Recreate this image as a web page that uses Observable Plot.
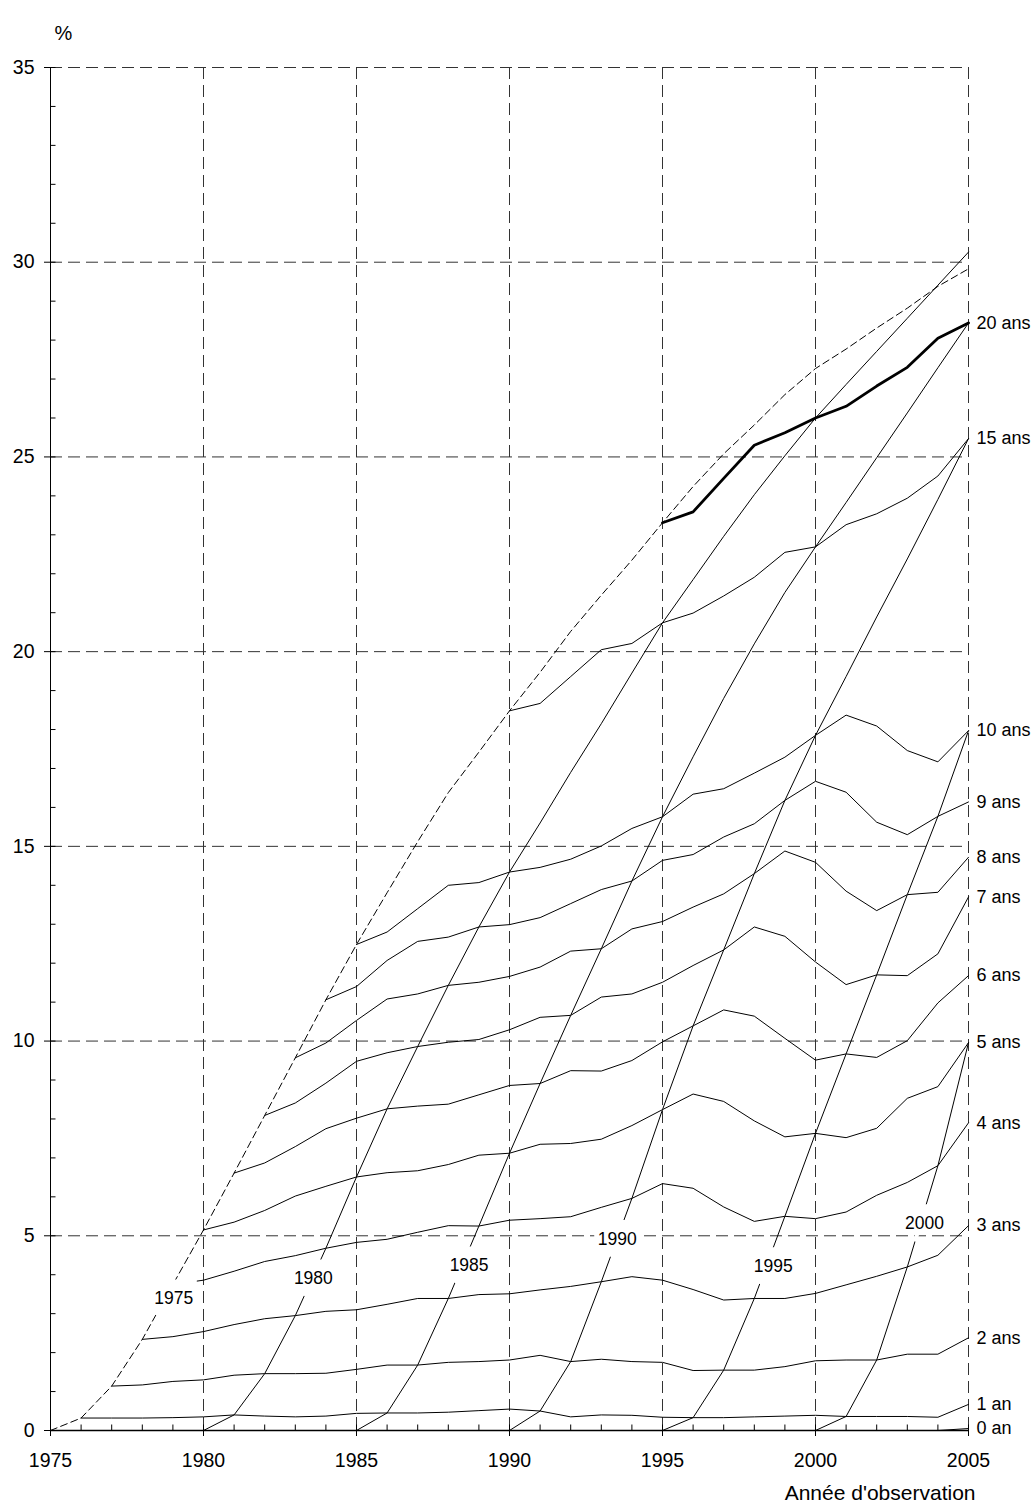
<!DOCTYPE html>
<html>
<head>
<meta charset="utf-8">
<script src="https://cdn.jsdelivr.net/npm/d3@7"></script>
<script src="https://cdn.jsdelivr.net/npm/@observablehq/plot@0.6"></script>
<style>
  body { margin: 0; background: #fff; }
  #chart svg { display: block; }
</style>
</head>
<body>
<div id="chart"></div>
<script>
// ---------- data (cumulative %) ----------
const firstYear = 1975, lastYear = 2005;
const durations = [0, 1, 2, 3, 4, 5, 6, 7, 8, 9, 10, 15, 20];
const durationLabels = ["0 an", "1 an", "2 ans", "3 ans", "4 ans", "5 ans", "6 ans", "7 ans", "8 ans", "9 ans", "10 ans", "15 ans", "20 ans"];

// each series starts in observation year 1975 + duration and ends in 2005
const dur0 = [0, 0, 0, 0, 0, 0, 0, 0, 0, 0, 0, 0, 0, 0, 0, 0, 0, 0, 0, 0, 0, 0, 0, 0, 0, 0, 0, 0, 0, 0, 0.05];
const dur1 = [0.32, 0.32, 0.32, 0.33, 0.35, 0.40, 0.37, 0.35, 0.37, 0.44, 0.45, 0.45, 0.47, 0.51, 0.55, 0.50, 0.35, 0.40, 0.39, 0.34, 0.33, 0.33, 0.35, 0.37, 0.39, 0.36, 0.36, 0.36, 0.34, 0.67];
const dur2 = [1.14, 1.17, 1.26, 1.30, 1.42, 1.46, 1.46, 1.47, 1.57, 1.68, 1.68, 1.75, 1.77, 1.81, 1.93, 1.77, 1.83, 1.77, 1.75, 1.54, 1.55, 1.55, 1.64, 1.79, 1.81, 1.81, 1.96, 1.96, 2.38];
const dur3 = [2.34, 2.41, 2.54, 2.72, 2.87, 2.95, 3.06, 3.10, 3.24, 3.39, 3.39, 3.49, 3.51, 3.61, 3.70, 3.82, 3.95, 3.86, 3.62, 3.35, 3.39, 3.39, 3.52, 3.74, 3.96, 4.20, 4.50, 5.26];
const dur4 = [3.75, 3.86, 4.09, 4.34, 4.49, 4.68, 4.83, 4.91, 5.09, 5.26, 5.25, 5.40, 5.44, 5.49, 5.73, 5.96, 6.34, 6.22, 5.74, 5.37, 5.50, 5.44, 5.61, 6.04, 6.37, 6.80, 7.90];
const dur5 = [5.15, 5.35, 5.65, 6.02, 6.27, 6.51, 6.62, 6.67, 6.83, 7.07, 7.12, 7.35, 7.37, 7.48, 7.83, 8.24, 8.64, 8.45, 7.95, 7.54, 7.63, 7.52, 7.76, 8.53, 8.83, 9.96];
const dur6 = [6.61, 6.87, 7.29, 7.75, 8.02, 8.26, 8.33, 8.38, 8.62, 8.86, 8.91, 9.24, 9.23, 9.50, 9.98, 10.39, 10.80, 10.64, 10.07, 9.51, 9.67, 9.58, 10.01, 10.98, 11.68];
const dur7 = [8.09, 8.41, 8.92, 9.48, 9.70, 9.86, 9.97, 10.04, 10.29, 10.61, 10.66, 11.13, 11.21, 11.51, 11.94, 12.34, 12.93, 12.69, 12.03, 11.45, 11.70, 11.68, 12.24, 13.70];
const dur8 = [9.57, 9.95, 10.53, 11.08, 11.21, 11.43, 11.51, 11.66, 11.90, 12.31, 12.37, 12.88, 13.07, 13.44, 13.78, 14.30, 14.88, 14.59, 13.85, 13.35, 13.76, 13.82, 14.72];
const dur9 = [11.06, 11.40, 12.07, 12.56, 12.67, 12.93, 12.99, 13.17, 13.53, 13.89, 14.11, 14.64, 14.79, 15.24, 15.58, 16.18, 16.67, 16.39, 15.62, 15.30, 15.77, 16.14];
const dur10 = [12.48, 12.80, 13.40, 14.00, 14.07, 14.34, 14.46, 14.67, 15.01, 15.46, 15.76, 16.34, 16.48, 16.88, 17.29, 17.85, 18.37, 18.09, 17.46, 17.17, 17.97];
const dur15 = [18.48, 18.67, 19.36, 20.05, 20.21, 20.74, 20.99, 21.43, 21.91, 22.55, 22.69, 23.26, 23.54, 23.94, 24.51, 25.47];
const dur20 = [23.31, 23.59, 24.45, 25.30, 25.62, 26.00, 26.30, 26.82, 27.30, 28.05, 28.44];
const durationSeries = [dur0, dur1, dur2, dur3, dur4, dur5, dur6, dur7, dur8, dur9, dur10, dur15, dur20];

// cohort (year of start) lines: values at durations that have no line of their own
const cohorts = [1975, 1980, 1985, 1990, 1995, 2000];
const extraDurations = [11, 12, 13, 14, 16, 17, 18, 19, 21, 22, 23, 24, 25, 26, 27, 28, 29, 30];
const cohort1975Extra = [13.81, 15.12, 16.38, 17.42, 19.47, 20.52, 21.45, 22.35, 24.24, 25.08, 25.82, 26.60, 27.27, 27.77, 28.31, 28.82, 29.38, 29.83];
const cohort1980Extra = [15.60, 16.90, 18.15, 19.45, 21.85, 22.96, 24.03, 25.03, 26.86, 27.71, 28.56, 29.41, 30.26];
const cohort1985Extra = [17.30, 18.80, 20.20, 21.52, 23.83, 24.98, 26.13, 27.29];
const cohort1990Extra = [19.36, 20.89, 22.38, 23.91];
const cohort1995Extra = [];
const cohort2000Extra = [];
const cohortExtras = [cohort1975Extra, cohort1980Extra, cohort1985Extra, cohort1990Extra, cohort1995Extra, cohort2000Extra];

// where the cohort labels sit
const cohortLabelYear = [1979.03, 1983.59, 1988.68, 1993.52, 1998.62, 2003.56];
const cohortLabelValue = [3.39, 3.90, 4.24, 4.92, 4.22, 5.32];

const xTicks = [1975, 1980, 1985, 1990, 1995, 2000, 2005];
const yTicks = [0, 5, 10, 15, 20, 25, 30, 35];

// ---------- layout ----------
const W = 1036, H = 1511, ML = 50, MR = 68, MT = 67, MB = 81;
const yMax = 35;
const font = "'Liberation Sans', Arial, Helvetica, sans-serif";

// ---------- build rows ----------
const table = new Map();
const key = (year, d) => year + ":" + d;
const durationRows = [];
durations.forEach((d, k) => {
  durationSeries[k].forEach((v, i) => {
    const year = firstYear + d + i;
    table.set(key(year, d), v);
    durationRows.push({d, year, v});
  });
});
cohorts.forEach((c, k) => {
  cohortExtras[k].forEach((v, j) => {
    const d = extraDurations[j];
    table.set(key(c + d, d), v);
  });
});
const cohortRows = [];
cohorts.forEach(c => {
  for (let d = 0; c + d <= lastYear; ++d) {
    const v = table.get(key(c + d, d));
    if (v !== undefined) cohortRows.push({c, year: c + d, v});
  }
});

// gaps in the cohort lines under their labels
const kx = (W - ML - MR) / (lastYear - firstYear);
const ky = (H - MT - MB) / yMax;
const gaps = cohorts.map((c, k) => {
  const pts = cohortRows.filter(r => r.c === c);
  const target = cohortLabelValue[k];
  for (let i = 1; i < pts.length; ++i) {
    const a = pts[i - 1], b = pts[i];
    if (a.v <= target && b.v >= target) {
      const slope = (b.v - a.v) / (b.year - a.year);
      return {year: a.year + (target - a.v) / slope, v: target,
              angle: Math.atan2(kx, ky * slope) * 180 / Math.PI};
    }
  }
  return null;
}).filter(Boolean);

const segShape = {draw(ctx, l) { ctx.moveTo(0, 0); ctx.lineTo(0, -l); }};
// white box behind each cohort label
const labelBox = {draw(ctx) { ctx.rect(-23, -19, 46, 27); }};
const grid = {stroke: "#333", strokeWidth: 1, strokeDasharray: "12,6"};

const chart = Plot.plot({
  width: W, height: H,
  marginLeft: ML, marginRight: MR, marginTop: MT, marginBottom: MB,
  style: {fontFamily: font, background: "white", color: "black", overflow: "visible"},
  x: {domain: [firstYear, lastYear]},
  y: {domain: [0, yMax]},
  marks: [
    // grid
    Plot.ruleX(xTicks.slice(1), {x: d => d, y1: yMax, y2: 0, ...grid}),
    Plot.ruleY(yTicks.slice(1), {y: d => d, x1: firstYear, x2: lastYear, ...grid}),
    // axes lines
    Plot.ruleX([firstYear], {x: d => d, y1: 0, y2: yMax, stroke: "black", strokeWidth: 1}),
    // minor ticks
    Plot.vector(d3.range(firstYear, lastYear + 1), {x: d => d, y: () => 0, length: 6, anchor: "start", shape: segShape, stroke: "black", strokeWidth: 1, strokeLinecap: "butt"}),
    Plot.vector(d3.range(0, yMax + 1), {x: () => firstYear, y: d => d, rotate: 90, length: 5, anchor: "start", shape: segShape, stroke: "black", strokeWidth: 1, strokeLinecap: "butt"}),
    Plot.axisX({ticks: xTicks, tickFormat: "d", tickSize: 6, tickPadding: 17, fontSize: 19.5, label: null}),
    Plot.axisY({ticks: yTicks, tickSize: 6, tickPadding: 10, fontSize: 19.5, label: null}),
    // duration lines
    Plot.line(durationRows.filter(r => r.d !== 20), {x: "year", y: "v", z: "d", stroke: "black", strokeWidth: 1, strokeLinejoin: "miter"}),
    Plot.line(durationRows.filter(r => r.d === 20), {x: "year", y: "v", stroke: "black", strokeWidth: 2.8, strokeLinejoin: "miter"}),
    // cohort lines
    Plot.line(cohortRows.filter(r => r.c !== 1975), {x: "year", y: "v", z: "c", stroke: "black", strokeWidth: 1, strokeLinejoin: "miter"}),
    Plot.line(cohortRows.filter(r => r.c === 1975), {x: "year", y: "v", stroke: "black", strokeWidth: 1, strokeDasharray: "7,4"}),
    Plot.ruleY([0], {y: d => d, x1: firstYear, x2: lastYear, stroke: "black", strokeWidth: 1.5}),
    // gaps + cohort labels
    Plot.vector(gaps, {x: "year", y: "v", rotate: "angle", length: 38, anchor: "middle", shape: segShape, stroke: "white", strokeWidth: 4, strokeLinecap: "butt"}),
    Plot.dot(cohorts, {x: (d, i) => cohortLabelYear[i], y: (d, i) => cohortLabelValue[i], symbol: labelBox, fill: "white", stroke: "none"}),
    Plot.text(cohorts, {x: (d, i) => cohortLabelYear[i], y: (d, i) => cohortLabelValue[i], text: d => String(d), fontSize: 17.5, fill: "black"}),
    // duration labels
    Plot.text(durations, {x: () => lastYear, y: (d, k) => durationSeries[k][durationSeries[k].length - 1], text: (d, k) => durationLabels[k], dx: 8, textAnchor: "start", fontSize: 18, fill: "black"}),
    // axis titles
    Plot.text(["Année d'observation"], {frameAnchor: "bottom-right", dx: 7, dy: 69, textAnchor: "end", fontSize: 21, fill: "black"}),
    Plot.text(["%"], {frameAnchor: "top-left", dx: 4, dy: -42, fontSize: 20, fill: "black"})
  ]
});
document.getElementById("chart").appendChild(chart);
</script>
</body>
</html>
